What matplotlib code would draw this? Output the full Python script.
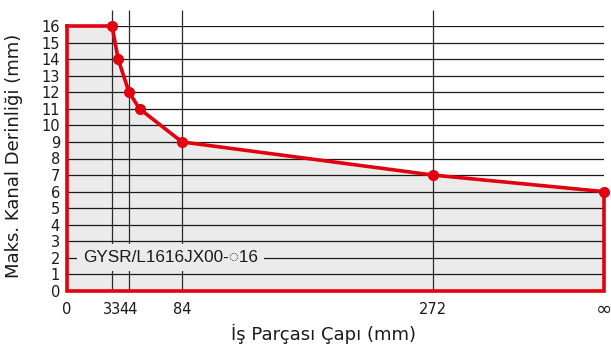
import numpy as np
import matplotlib
matplotlib.use("Agg")
import matplotlib.pyplot as plt

# Data
diameters = [33, 37, 44, 52, 84, 272, 400]   # 400 stands for infinity
depths = [16, 14, 12, 11, 9, 7, 6]
tick_values = [0, 33, 44, 84, 272, 400]
tick_labels = ["0", "33", "44", "84", "272", "∞"]
grid_x = [33, 44, 84, 272]
y_ticks = list(range(0, 17))
label_text = "GYSR/L1616JX00-◌16"

# non-linear x axis positions (axis-scale mapping)
pos = np.array([0, 45, 62, 115, 366, 537], dtype=float)
tv = np.array(tick_values, dtype=float)

def fwd(x):
    return np.interp(x, tv, pos)

def inv(y):
    return np.interp(y, pos, tv)

red = "#e3000f"
fillc = "#ebebeb"

fig = plt.figure(figsize=(6.11, 3.54), dpi=100)
ax = fig.add_axes([67/611, 1-291/354, (604-67)/611, (291-26)/354])
ax.set_xscale("function", functions=(fwd, inv))
ax.set_xlim(0, 400)
ax.set_ylim(0, 16)

xs = [0] + diameters
ys = [16] + depths
ax.fill_between(xs, ys, 0, color=fillc, zorder=1, linewidth=0)

# horizontal grid
for yv in y_ticks[1:]:
    ax.plot([0, 400], [yv, yv], color="#1a1a1a", lw=0.9, zorder=2, solid_capstyle="butt")
# vertical grid (extend above)
for xv in grid_x:
    ax.plot([xv, xv], [0, 16.95], color="#2a2a2a", lw=0.9, zorder=2, clip_on=False,
             solid_capstyle="butt")

# red outline
ax.plot([400, 400, 0, 0], [depths[-1], 0, 0, 16], color=red, lw=2.6, zorder=4,
        clip_on=False, solid_joinstyle="miter")
ax.plot(xs, ys, color=red, lw=2.6, zorder=4, clip_on=False, solid_joinstyle="round")
ax.plot(diameters, depths, "o", color=red, ms=7, zorder=5, clip_on=False)

# label on grid line y=2
ax.text(11.7, 2, label_text, fontsize=12.3, va="center", ha="left", zorder=3,
        family=["Liberation Sans", "Noto Sans", "DejaVu Sans"], color="#1a1a1a",
        bbox=dict(boxstyle="square,pad=0.35", fc=fillc, ec="none"))

for s in ax.spines.values():
    s.set_visible(False)
ax.set_xticks(tick_values)
ax.set_xticklabels(tick_labels)
ax.set_yticks(y_ticks)
ax.tick_params(axis="both", length=0, labelsize=10.5, colors="#1a1a1a")
ax.tick_params(axis="y", pad=5)
ax.tick_params(axis="x", pad=13.5)
for lab in ax.get_xticklabels():
    lab.set_va("center")
ax.get_xticklabels()[-1].set_fontsize(14)

fig.text(323/611, 1-334/354, "İş Parçası Çapı (mm)", ha="center", va="center", fontsize=13, color="#1a1a1a")
fig.text(14/611, 1-156/354, "Maks. Kanal Derinliği (mm)", ha="center", va="center",
         rotation=90, fontsize=13, color="#1a1a1a")

fig.savefig("out.png", dpi=100)
